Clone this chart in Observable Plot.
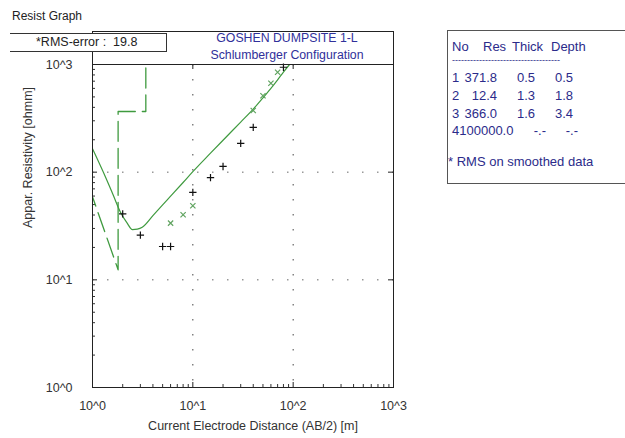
<!DOCTYPE html>
<html><head><meta charset="utf-8">
<script src="https://cdn.jsdelivr.net/npm/d3@7"></script>
<script src="https://cdn.jsdelivr.net/npm/@observablehq/plot@0.6"></script>
<style>
html,body{margin:0;padding:0;background:#fff;}
#wrap{position:relative;width:625px;height:438px;overflow:hidden;font-family:"Liberation Sans",Arial,sans-serif;}
#wrap svg{position:absolute;left:0;top:0;}
.ov{position:absolute;white-space:pre;line-height:1;}
</style></head><body>
<div id="wrap"></div>
<script>
// ---- data ----
const windowTitle = "Resist Graph";
const chartTitle = ["GOSHEN DUMPSITE 1-L", "Schlumberger Configuration"];
const rmsError = 19.8;
const xLabel = "Current Electrode Distance (AB/2) [m]";
const yLabel = "Appar. Resistivity [ohmm]";
const decadeTicks = [1, 10, 100, 1000];
const tickLabels = ["10^0", "10^1", "10^2", "10^3"];
// observed field data (+)
const obsAB  = [2, 3, 5, 6, 10, 15, 20, 30, 40, 80];
const obsRho = [41, 26, 20.4, 20.4, 65, 89, 113, 185, 261, 943];
// smoothed data (x)
const smoothAB  = [6, 8, 10, 40, 50, 60, 70];
const smoothRho = [33.6, 40.2, 48.7, 374, 512, 670, 848];
// computed model curve (solid)
const modelAB  = [1, 1.3, 1.6, 1.9, 2.2, 2.5, 2.8, 3.13, 4, 5, 6, 8, 10, 15, 20, 30, 40, 50, 60, 70, 80, 92];
const modelRho = [165, 97, 62, 42.5, 34, 29.3, 29.6, 30.8, 39.5, 49.7, 59.8, 80.2, 101, 150, 198, 292, 385, 490, 600, 720, 850, 1000];
// layered model (table + dashed line)
const layerNo    = [1, 2, 3, 4];
const layerRes   = [371.8, 12.4, 366.0, 100000.0];
const layerThick = [0.5, 1.3, 1.6];
const layerDepth = [0.5, 1.8, 3.4];

// ---- build tables ----
const obs = obsAB.map((x, i) => ({x, y: obsRho[i]}));
const smooth = smoothAB.map((x, i) => ({x, y: smoothRho[i]}));
const model = modelAB.map((x, i) => ({x, y: modelRho[i]}));
const layerPath = [
  {x: layerDepth[0], y: layerRes[0]},
  {x: layerDepth[1], y: layerRes[1]},
  {x: layerDepth[1], y: layerRes[2]},
  {x: layerDepth[2], y: layerRes[2]},
  {x: layerDepth[2], y: layerRes[3]}
];
const minorTicks = [];
for (const d of [1, 10, 100]) for (let k = 2; k <= 9; k++) minorTicks.push(d * k);
const fmt = d => tickLabels[decadeTicks.indexOf(d)];

const W = 625, H = 438, ML = 92, MR = 232, MT = 64, MB = 51;
const FW = W - ML - MR, FH = H - MT - MB;
const green = "#3f9a3f";

const plot = Plot.plot({
  width: W, height: H,
  marginLeft: ML, marginRight: MR, marginTop: MT, marginBottom: MB,
  x: {type: "log", domain: [1, 1000], axis: null},
  y: {type: "log", domain: [1, 1000], axis: null},
  style: {fontFamily: '"Liberation Sans", Arial, sans-serif', fontSize: "12.5px", color: "#333", background: "transparent", overflow: "visible"},
  marks: [
    Plot.ruleX([10, 100], {x: d => d, stroke: "#444", strokeDasharray: "1.5,13.5"}),
    Plot.ruleY([10, 100], {y: d => d, stroke: "#666", strokeDasharray: "1.5,13.5"}),
    Plot.tickX(minorTicks, {x: d => d, insetTop: FH - 3, stroke: "#333"}),
    Plot.tickX(decadeTicks, {x: d => d, insetTop: FH - 5, stroke: "#222"}),
    Plot.tickX(decadeTicks, {x: d => d, insetBottom: FH - 5, stroke: "#222"}),
    Plot.tickY(minorTicks, {y: d => d, insetRight: FW - 3, stroke: "#333"}),
    Plot.tickY(decadeTicks, {y: d => d, insetRight: FW - 5, stroke: "#222"}),
    Plot.tickY(decadeTicks, {y: d => d, insetLeft: FW - 5, stroke: "#222"}),
    Plot.line(layerPath, {x: "x", y: "y", stroke: green, strokeWidth: 1.3, strokeDasharray: "20,7", clip: true}),
    Plot.line(model, {x: "x", y: "y", stroke: green, strokeWidth: 1.2, curve: "monotone-x", clip: true}),
    Plot.dot(obs, {x: "x", y: "y", symbol: "plus", r: 2.5, stroke: "#111", strokeWidth: 1.2}),
    Plot.dot(smooth, {x: "x", y: "y", symbol: "times", r: 2.5, stroke: "#5fa35f", strokeWidth: 1.2}),
    Plot.frame({stroke: "#222"}),
    Plot.text(decadeTicks, {x: d => d, frameAnchor: "bottom", lineAnchor: "middle", dy: 18, text: fmt, fill: "#333"}),
    Plot.text(decadeTicks, {y: d => d, frameAnchor: "left", lineAnchor: "middle", dx: -20, textAnchor: "end", text: fmt, fill: "#333"}),
    Plot.text([xLabel], {frameAnchor: "bottom", lineAnchor: "middle", textAnchor: "middle", dx: 10, dy: 38, text: d => d, fill: "#333"}),
    Plot.text([yLabel], {frameAnchor: "top-left", lineAnchor: "middle", textAnchor: "middle", dx: -65, dy: 93, rotate: -90, text: d => d, fill: "#333"})
  ]
});
const wrap = document.getElementById("wrap");
wrap.appendChild(plot);

function ov(text, css) {
  const el = document.createElement("div");
  el.className = "ov";
  el.textContent = text;
  el.style.cssText += css;
  wrap.appendChild(el);
  return el;
}
// window title
ov(windowTitle, "left:12px;top:10px;font-size:12px;color:#222;");
// title box
ov("", "left:92px;top:31px;width:300px;height:33px;border:1px solid #222;border-bottom:none;");
ov(chartTitle[0], "left:181px;top:32px;width:212px;text-align:center;font-size:12.3px;color:#30309a;");
ov(chartTitle[1], "left:181px;top:49px;width:212px;text-align:center;font-size:12.3px;color:#30309a;");
// RMS box
ov("*RMS-error :  " + rmsError.toFixed(1), "left:10px;top:33px;width:130px;height:17px;padding-left:26px;background:#fff;border:1px solid #333;border-left:none;font-size:12.5px;color:#222;line-height:17px;");
// layer table box
ov("", "left:447px;top:30px;width:190px;height:152px;border:1px solid #555;");
const tc = "font-size:13px;color:#2b2b8a;";
ov("No", `left:452px;top:40px;${tc}`);
ov("Res", `left:483px;top:40px;${tc}`);
ov("Thick", `left:512px;top:40px;${tc}`);
ov("Depth", `left:551px;top:40px;${tc}`);
ov("-".repeat(36), `left:452px;top:56px;font-size:9px;color:#2b2b8a;`);
const rowY = [71, 89, 107, 124];
layerNo.forEach((n, i) => {
  const y = rowY[i];
  if (i < layerThick.length) {
    ov(String(n), `left:452px;top:${y}px;${tc}`);
    ov(layerRes[i].toFixed(1), `right:${625 - 497}px;top:${y}px;${tc}`);
    ov(layerThick[i].toFixed(1), `right:${625 - 535}px;top:${y}px;${tc}`);
    ov(layerDepth[i].toFixed(1), `right:${625 - 573}px;top:${y}px;${tc}`);
  } else {
    ov(String(n) + layerRes[i].toFixed(1), `left:452px;top:${y}px;${tc}`);
    ov("-.-", `right:${625 - 546}px;top:${y}px;${tc}`);
    ov("-.-", `right:${625 - 578}px;top:${y}px;${tc}`);
  }
});
ov("* RMS on smoothed data", `left:448px;top:155px;${tc}`);
</script>
</body></html>
